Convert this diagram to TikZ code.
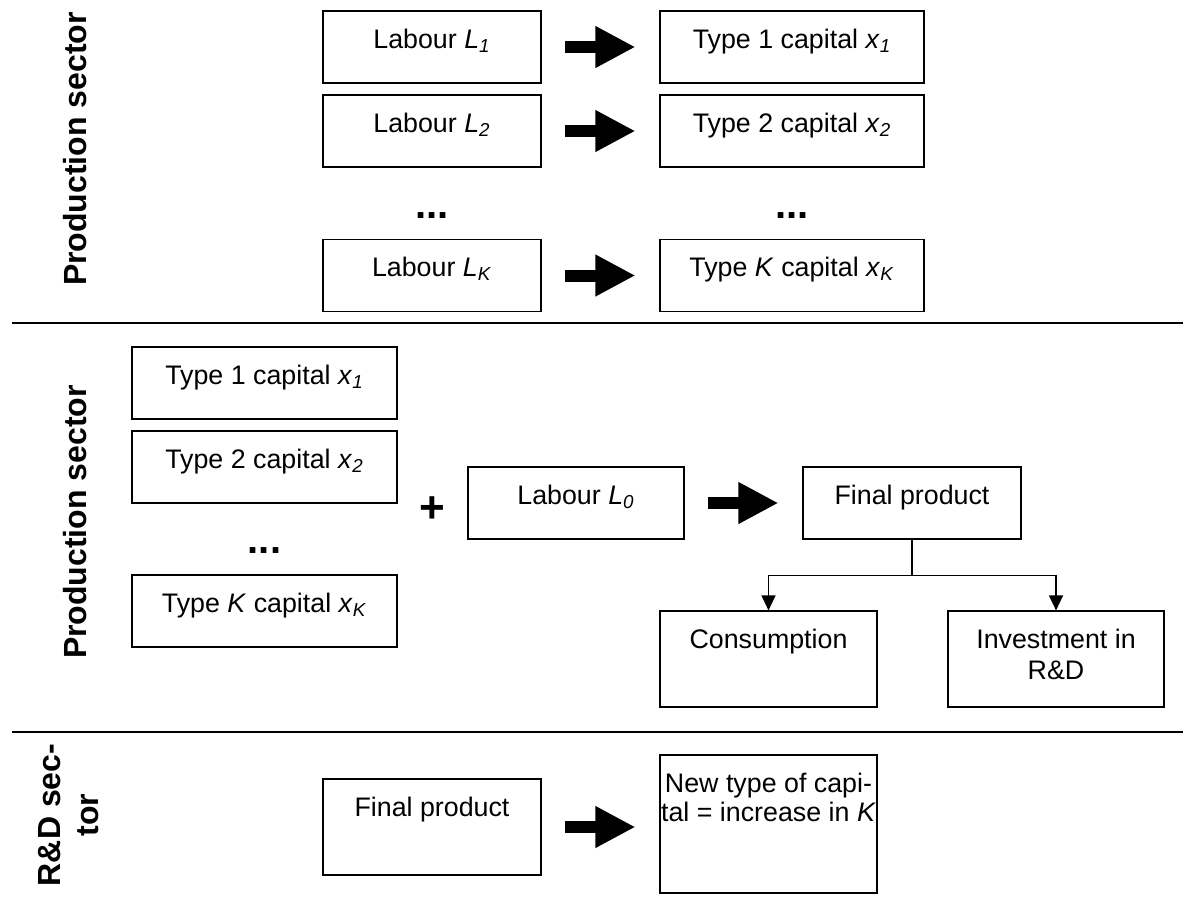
\documentclass[tikz,border=0pt]{standalone}
\usepackage{fontspec}
\setmainfont{Liberation Sans}
\usetikzlibrary{arrows.meta}
\newcommand{\ivar}[2]{\textit{#1}\textsubscript{\textit{#2}}}

\begin{document}
\begin{tikzpicture}[x=0.5pt, y=-0.5pt, node distance=180pt,
  font=\fontsize{13.4}{15.5}\selectfont,
  box/.style={draw, line width=0.6pt, inner xsep=0pt, inner ysep=0pt, align=center, minimum width=109pt, text height=18.5pt, text depth=#1},
  box/.default=17.5pt,
  sector/.style={rotate=90, align=center, font=\fontsize{16}{19}\selectfont\bfseries},
  dots/.style={anchor=base, font=\fontsize{20}{24}\selectfont\bfseries},
  fatarrow/.style={line width=6pt, -{Triangle[length=20pt, width=19.5pt]}, shorten <=11.5pt, shorten >=12pt},
  branch/.style={line width=0.6pt, -{Triangle[length=7.5pt, width=7pt]}}]
\useasboundingbox (0,0) rectangle (1183,896);

\node[sector] (prod1) at (75,149) {Production sector};
\node[box] (lab1) at (432,47) {Labour \ivar{L}{1}};
\node[box] (lab2) at (432,131) {Labour \ivar{L}{2}};
\node[dots] (dotl) at (432,218) {...};
\node[box] (labk) at (432,275.5) {Labour \ivar{L}{K}};
\node[box, minimum width=132pt, right of=lab1] (cap1) {Type 1 capital \ivar{x}{1}};
\node[box, minimum width=132pt, right of=lab2] (cap2) {Type 2 capital \ivar{x}{2}};
\node[dots, right of=dotl] (dotc) {...};
\node[box, minimum width=132pt, right of=labk] (capk) {Type \textit{K} capital \ivar{x}{K}};
\draw[fatarrow] (lab1) -- (cap1);
\draw[fatarrow] (lab2) -- (cap2);
\draw[fatarrow] (labk) -- (capk);

\draw[line width=0.6pt] (12,323) -- (1183,323);

\node[sector] (prod2) at (75,522) {Production sector};
\node[box, minimum width=132.5pt] (typ1) at (264.5,383) {Type 1 capital \ivar{x}{1}};
\node[box, minimum width=132.5pt] (typ2) at (264.5,467) {Type 2 capital \ivar{x}{2}};
\node[dots] (dotm) at (264.5,553) {...};
\node[box, minimum width=132.5pt] (typk) at (264.5,611) {Type \textit{K} capital \ivar{x}{K}};
\node[font=\fontsize{22}{24}\selectfont\bfseries, inner sep=0pt] (plus) at (432,509.5) {+};
\node[box, minimum width=108pt] (lab0) at (576,503) {Labour \ivar{L}{0}};
\node[box, right of=lab0, node distance=168pt] (fp) {Final product};
\node[box=29.5pt, minimum width=108.5pt] (cons) at (768.5,659) {Consumption};
\node[box=14pt, text height=34pt, minimum width=108pt] (inv) at (1056,659) {Investment in\\R\&D};
\draw[fatarrow] (lab0) -- (fp);
\draw[line width=0.6pt] (fp.south) -- ++(0,36) coordinate (split);
\draw[branch] (split) -| (cons.north);
\draw[branch] (split) -| (inv.north);

\draw[line width=0.6pt] (12,732) -- (1183,732);

\node[sector] (rnd) at (68.5,815) {R\&D sec-\\tor};
\node[box=29.5pt] (rdfp) at (432,827) {Final product};
\node[box=36pt, text height=33pt, minimum width=108.5pt, font=\fontsize{13.4}{14.5}\selectfont] (newk) at (768.5,824) {New type of capi-\\tal = increase in \textit{K}};
\draw[fatarrow] (rdfp.east) -- (rdfp.east -| newk.west);
\end{tikzpicture}
\end{document}
